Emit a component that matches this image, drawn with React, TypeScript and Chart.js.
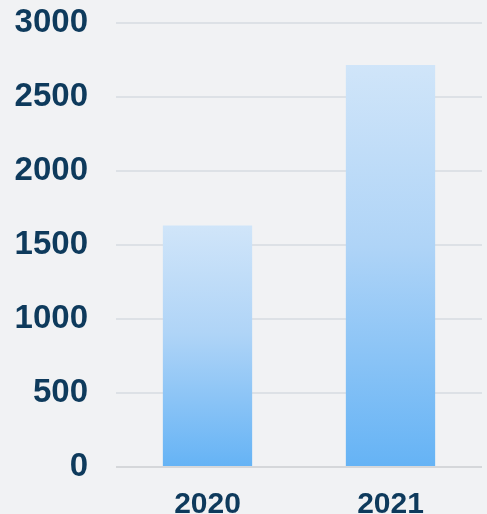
import React, { useEffect, useRef } from "react";
import { Chart, registerables } from "chart.js";

Chart.register(...registerables);

const categories = ["2020", "2021"];
const values = [1632, 2716];
const yTicks = [0, 500, 1000, 1500, 2000, 2500, 3000];

const BG = "#f1f2f4";
const TEXT = "#0e3a5c";

export default function App() {
  const ref = useRef<HTMLCanvasElement | null>(null);

  useEffect(() => {
    document.body.style.margin = "0";
    const canvas = ref.current!;
    const chart = new Chart(canvas, {
      type: "bar",
      data: {
        labels: categories,
        datasets: [
          {
            data: values,
            borderWidth: 0,
            categoryPercentage: 0.8,
            barPercentage: 0.61,
            backgroundColor: (ctx: any) => {
              const c = ctx.chart;
              const ys = c.scales.y;
              if (!ys || !c.chartArea) return "#9ccbf5";
              const v = ctx.raw as number;
              const top = ys.getPixelForValue(v);
              const bottom = ys.getPixelForValue(0);
              if (!isFinite(top) || !isFinite(bottom)) return "#9ccbf5";
              const g = c.ctx.createLinearGradient(0, top, 0, bottom);
              g.addColorStop(0, "#d0e5f9");
              g.addColorStop(0.45, "#afd4f7");
              g.addColorStop(1, "#65b3f5");
              return g;
            },
          },
        ],
      },
      options: {
        responsive: false,
        animation: false,
        layout: { padding: { top: 23, right: 5, left: 0, bottom: 0 } },
        plugins: { legend: { display: false }, tooltip: { enabled: false } },
        scales: {
          x: {
            grid: { display: false, drawTicks: false },
            border: { display: false },
            ticks: {
              color: TEXT,
              padding: 20,
              font: { family: "'Liberation Sans', Arial, sans-serif", size: 30, weight: "bold" },
            },
            afterFit: (s: any) => {
              s.height = 47;
              s.paddingLeft = 0;
              s.paddingRight = 0;
            },
          },
          y: {
            min: 0,
            max: 3000,
            afterBuildTicks: (s: any) => {
              s.ticks = yTicks.map((v) => ({ value: v }));
            },
            grid: {
              drawTicks: false,
              lineWidth: 2,
              color: (ctx: any) => (ctx.tick && ctx.tick.value === 0 ? "#d5d7da" : "#dde1e6"),
            },
            border: { display: false },
            ticks: {
              color: TEXT,
              padding: 28,
              callback: (v: any) => String(v),
              font: { family: "'Liberation Sans', Arial, sans-serif", size: 33, weight: "bold" },
            },
            afterFit: (s: any) => {
              s.width = 116;
              s.paddingTop = 0;
              s.paddingBottom = 0;
            },
          },
        },
      },
    });
    return () => chart.destroy();
  }, []);

  return (
    <div style={{ position: "fixed", left: 0, top: 0, width: 487, height: 514, background: BG }}>
      <canvas ref={ref} width={487} height={514} style={{ display: "block", width: 487, height: 514 }} />
    </div>
  );
}
